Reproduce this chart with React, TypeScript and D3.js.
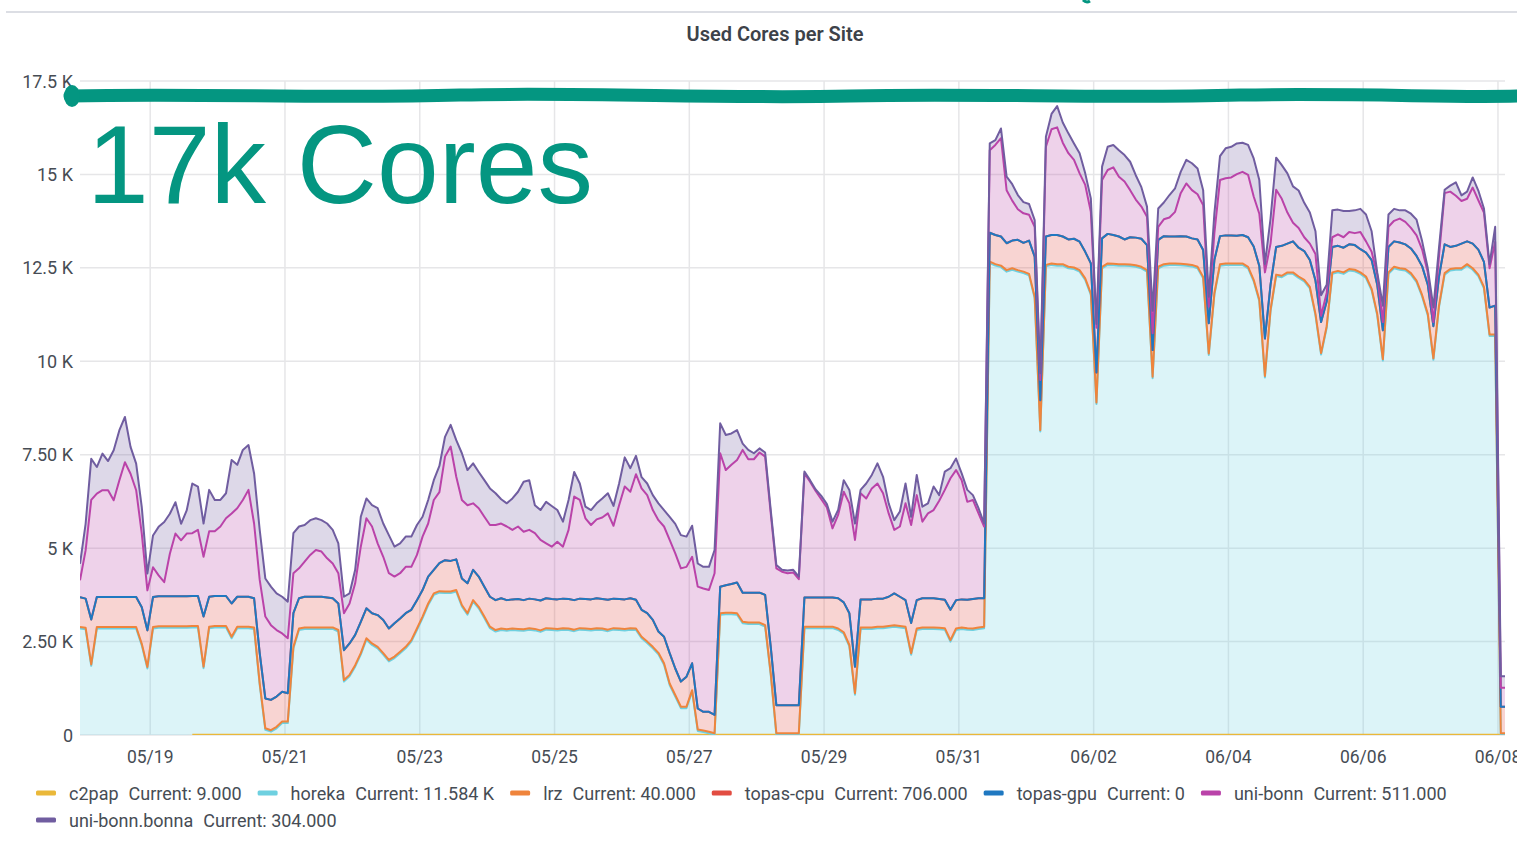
import { useMemo } from "react";
import * as d3 from "d3";

const WIDTH = 1517;
const HEIGHT = 846;
const MARGIN = { left: 80, right: 1505, top: 81, bottom: 735 };

const START_TIME = "2023-05-17T23:00:00Z";
const END_TIME = "2023-06-08T02:30:00Z";
const STEP_HOURS = 2; // one sample every 2 hours

export const seriesNames = ["c2pap", "horeka", "lrz", "topas-cpu", "topas-gpu", "uni-bonn", "uni-bonn.bonna"];
export const currentValues = ["9.000", "11.584 K", "40.000", "706.000", "0", "511.000", "304.000"];
export const colors = ["#EAB839", "#6ED0E0", "#EF843C", "#E24D42", "#1F78C1", "#BA43A9", "#705DA0"];

const yTickValues = [0, 2500, 5000, 7500, 10000, 12500, 15000, 17500];
const yTickLabels = ["0", "2.50 K", "5 K", "7.50 K", "10 K", "12.5 K", "15 K", "17.5 K"];
const xTickDates = ["2023-05-19", "2023-05-21", "2023-05-23", "2023-05-25", "2023-05-27", "2023-05-29",
  "2023-05-31", "2023-06-02", "2023-06-04", "2023-06-06", "2023-06-08"];

// cores per site, 2h samples (255 each)
const c2pap = [
  null, null, null, null, null, null, null, null, null, null,
  null, null, null, null, null, null, null, null, null, null,
  9, 9, 9, 9, 9, 9, 9, 9, 9, 9,
  9, 9, 9, 9, 9, 9, 9, 9, 9, 9,
  9, 9, 9, 9, 9, 9, 9, 9, 9, 9,
  9, 9, 9, 9, 9, 9, 9, 9, 9, 9,
  9, 9, 9, 9, 9, 9, 9, 9, 9, 9,
  9, 9, 9, 9, 9, 9, 9, 9, 9, 9,
  9, 9, 9, 9, 9, 9, 9, 9, 9, 9,
  9, 9, 9, 9, 9, 9, 9, 9, 9, 9,
  9, 9, 9, 9, 9, 9, 9, 9, 9, 9,
  9, 9, 9, 9, 9, 9, 9, 9, 9, 9,
  9, 9, 9, 9, 9, 9, 9, 9, 9, 9,
  9, 9, 9, 9, 9, 9, 9, 9, 9, 9,
  9, 9, 9, 9, 9, 9, 9, 9, 9, 9,
  9, 9, 9, 9, 9, 9, 9, 9, 9, 9,
  9, 9, 9, 9, 9, 9, 9, 9, 9, 9,
  9, 9, 9, 9, 9, 9, 9, 9, 9, 9,
  9, 9, 9, 9, 9, 9, 9, 9, 9, 9,
  9, 9, 9, 9, 9, 9, 9, 9, 9, 9,
  9, 9, 9, 9, 9, 9, 9, 9, 9, 9,
  9, 9, 9, 9, 9, 9, 9, 9, 9, 9,
  9, 9, 9, 9, 9, 9, 9, 9, 9, 9,
  9, 9, 9, 9, 9, 9, 9, 9, 9, 9,
  9, 9, 9, 9, 9, 9, 9, 9, 9, 9,
  9, 9, 9, 9, 9,
];

const horeka = [
  2850, 2830, 1850, 2850, 2850, 2850, 2850, 2850, 2850, 2850,
  2850, 2400, 1780, 2850, 2870, 2870, 2870, 2870, 2870, 2870,
  2870, 2870, 1780, 2850, 2870, 2870, 2870, 2580, 2850, 2850,
  2850, 2830, 1330, 130, 80, 170, 310, 310, 2310, 2800,
  2830, 2830, 2830, 2830, 2830, 2830, 2760, 1420, 1560, 1820,
  2140, 2540, 2400, 2310, 2140, 1960, 2050, 2180, 2310, 2490,
  2800, 3120, 3470, 3740, 3800, 3790, 3790, 3830, 3430, 3210,
  3560, 3380, 3120, 2850, 2760, 2800, 2780, 2800, 2790, 2780,
  2810, 2790, 2750, 2810, 2800, 2790, 2810, 2800, 2770, 2810,
  2800, 2790, 2810, 2800, 2770, 2810, 2800, 2790, 2810, 2800,
  2580, 2450, 2310, 2150, 1870, 1330, 1020, 710, 710, 1150,
  100, 70, 40, 0, 3210, 3220, 3220, 3210, 2980, 2960,
  2960, 2960, 2890, 1600, 0, 0, 0, 0, 0, 2850,
  2850, 2850, 2850, 2850, 2850, 2800, 2700, 2360, 1070, 2830,
  2830, 2830, 2850, 2850, 2870, 2890, 2870, 2850, 2140, 2800,
  2830, 2830, 2830, 2820, 2810, 2490, 2800, 2830, 2810, 2800,
  2830, 2850, 12620, 12550, 12510, 12390, 12440, 12390, 12350, 12290,
  11680, 8110, 12530, 12570, 12550, 12550, 12480, 12460, 12390, 12170,
  11770, 8850, 12480, 12570, 12560, 12550, 12550, 12540, 12520, 12480,
  12390, 9540, 12480, 12550, 12570, 12570, 12560, 12550, 12530, 12480,
  12210, 10160, 11770, 12550, 12570, 12570, 12570, 12570, 12480, 12130,
  11600, 9560, 11330, 12270, 12240, 12330, 12330, 12220, 12130, 11940,
  11220, 10170, 10890, 12330, 12370, 12330, 12420, 12400, 12330, 12220,
  11890, 11220, 10010, 12330, 12480, 12440, 12420, 12310, 12110, 11720,
  11220, 10030, 11440, 12310, 12420, 12440, 12440, 12550, 12440, 12270,
  11940, 10670, 10670, 0, 0,
];

const lrz = [
  40, 40, 40, 40, 40, 40, 40, 40, 40, 40, 40, 40, 40, 40, 40, 40, 40, 40, 40, 40,
  40, 40, 40, 40, 40, 40, 40, 40, 40, 40, 40, 40, 40, 40, 40, 40, 40, 40, 40, 40,
  40, 40, 40, 40, 40, 40, 40, 40, 40, 40, 40, 40, 40, 40, 40, 40, 40, 40, 40, 40,
  40, 40, 40, 40, 40, 40, 40, 40, 40, 40, 40, 40, 40, 40, 40, 40, 40, 40, 40, 40,
  40, 40, 40, 40, 40, 40, 40, 40, 40, 40, 40, 40, 40, 40, 40, 40, 40, 40, 40, 40,
  40, 40, 40, 40, 40, 40, 40, 40, 40, 40, 40, 40, 40, 40, 40, 40, 40, 40, 40, 40,
  40, 40, 40, 40, 40, 40, 40, 40, 40, 40, 40, 40, 40, 40, 40, 40, 40, 40, 40, 40,
  40, 40, 40, 40, 40, 40, 40, 40, 40, 40, 40, 40, 40, 40, 40, 40, 40, 40, 40, 40,
  40, 40, 40, 40, 40, 40, 40, 40, 40, 40, 40, 40, 40, 40, 40, 40, 40, 40, 40, 40,
  40, 40, 40, 40, 40, 40, 40, 40, 40, 40, 40, 40, 40, 40, 40, 40, 40, 40, 40, 40,
  40, 40, 40, 40, 40, 40, 40, 40, 40, 40, 40, 40, 40, 40, 40, 40, 40, 40, 40, 40,
  40, 40, 40, 40, 40, 40, 40, 40, 40, 40, 40, 40, 40, 40, 40, 40, 40, 40, 40, 40,
  40, 40, 40, 40, 40, 40, 40, 40, 40, 40, 40, 40, 40, 40, 40,
];

const topasCpu = [
  800, 780, 1200, 800, 800, 800, 800, 800, 800, 800,
  800, 980, 980, 800, 800, 800, 800, 800, 800, 800,
  800, 800, 1340, 800, 800, 800, 800, 890, 800, 800,
  800, 780, 810, 800, 810, 810, 800, 760, 900, 810,
  820, 820, 820, 820, 800, 780, 710, 800, 840, 810,
  840, 800, 810, 850, 890, 840, 890, 890, 900, 810,
  760, 710, 720, 630, 750, 840, 820, 820, 710, 800,
  810, 810, 800, 800, 800, 810, 780, 780, 800, 780,
  790, 790, 800, 800, 790, 790, 790, 790, 790, 790,
  790, 790, 800, 790, 800, 790, 790, 790, 800, 770,
  720, 760, 720, 570, 710, 810, 710, 670, 800, 720,
  560, 500, 530, 490, 710, 740, 770, 820, 780, 800,
  800, 800, 810, 710, 750, 750, 750, 750, 750, 780,
  780, 780, 780, 780, 780, 810, 800, 850, 710, 750,
  750, 750, 750, 750, 780, 850, 780, 710, 810, 760,
  780, 780, 780, 770, 760, 810, 760, 750, 760, 790,
  780, 760, 770, 780, 780, 720, 740, 810, 770, 890,
  1070, 800, 760, 760, 780, 740, 730, 770, 760, 710,
  800, 800, 760, 790, 770, 740, 660, 730, 740, 750,
  670, 710, 720, 750, 720, 720, 740, 740, 710, 730,
  720, 810, 890, 750, 750, 750, 740, 760, 790, 890,
  900, 1000, 670, 740, 800, 770, 830, 770, 770, 720,
  890, 830, 660, 680, 670, 660, 660, 660, 620, 640,
  770, 780, 770, 680, 680, 690, 660, 660, 660, 770,
  780, 860, 780, 770, 590, 600, 660, 610, 660, 670,
  670, 720, 770, 706, 706,
];

const topasGpu = [
  0, 0, 0, 0, 0, 0, 0, 0, 0, 0, 0, 0, 0, 0, 0, 0, 0, 0, 0, 0, 0, 0, 0, 0, 0, 0, 0, 0, 0, 0,
  0, 0, 0, 0, 0, 0, 0, 0, 0, 0, 0, 0, 0, 0, 0, 0, 0, 0, 0, 0, 0, 0, 0, 0, 0, 0, 0, 0, 0, 0,
  0, 0, 0, 0, 0, 0, 0, 0, 0, 0, 0, 0, 0, 0, 0, 0, 0, 0, 0, 0, 0, 0, 0, 0, 0, 0, 0, 0, 0, 0,
  0, 0, 0, 0, 0, 0, 0, 0, 0, 0, 0, 0, 0, 0, 0, 0, 0, 0, 0, 0, 0, 0, 0, 0, 0, 0, 0, 0, 0, 0,
  0, 0, 0, 0, 0, 0, 0, 0, 0, 0, 0, 0, 0, 0, 0, 0, 0, 0, 0, 0, 0, 0, 0, 0, 0, 0, 0, 0, 0, 0,
  0, 0, 0, 0, 0, 0, 0, 0, 0, 0, 0, 0, 0, 0, 0, 0, 0, 0, 0, 0, 0, 0, 0, 0, 0, 0, 0, 0, 0, 0,
  0, 0, 0, 0, 0, 0, 0, 0, 0, 0, 0, 0, 0, 0, 0, 0, 0, 0, 0, 0, 0, 0, 0, 0, 0, 0, 0, 0, 0, 0,
  0, 0, 0, 0, 0, 0, 0, 0, 0, 0, 0, 0, 0, 0, 0, 0, 0, 0, 0, 0, 0, 0, 0, 0, 0, 0, 0, 0, 0, 0,
  0, 0, 0, 0, 0, 0, 0, 0, 0, 0, 0, 0, 0, 0, 0,
];

const uniBonn = [
  450, 1290, 3200, 2770, 2860, 2860, 2590, 3120, 3610, 3300,
  2860, 1970, 1070, 800, 560, 380, 1140, 1680, 1500, 1680,
  1680, 1770, 1600, 1750, 1730, 1860, 2080, 2410, 2370, 2590,
  2860, 2000, 1960, 2190, 2000, 1780, 1560, 1470, 1070, 800,
  940, 1120, 1250, 1210, 1050, 930, 810, 990, 1070, 1380,
  2010, 2410, 2320, 1920, 1690, 1480, 1250, 1210, 1240, 1150,
  1210, 1430, 1420, 1870, 1900, 2770, 3060, 2210, 2100, 2090,
  1780, 1830, 1870, 1920, 2010, 2000, 1970, 1860, 1940, 1830,
  1840, 1770, 1620, 1470, 1400, 1540, 1390, 1850, 2770, 2640,
  2160, 1990, 2110, 2180, 2310, 1950, 2510, 3020, 2850, 3360,
  3250, 3160, 2940, 2980, 2950, 3030, 3080, 3030, 2940, 2850,
  3260, 3300, 3260, 3790, 3570, 3080, 3190, 3280, 3820, 3570,
  3570, 3750, 3700, 3570, 3660, 3570, 3530, 3550, 3370, 3320,
  3100, 2850, 2630, 2410, 1850, 2230, 2960, 2940, 3390, 2840,
  2700, 2970, 3080, 2820, 2230, 1700, 1880, 2590, 2620, 2810,
  2050, 2270, 2360, 2630, 2940, 3520, 3480, 3190, 2620, 2650,
  2270, 1920, 2210, 2410, 2630, 1420, 1070, 820, 790, 690,
  800, 540, 2400, 2830, 2880, 2510, 2310, 2110, 1830, 1790,
  1380, 1200, 1560, 1710, 1810, 1600, 1550, 1260, 1020, 860,
  760, 450, 350, 450, 510, 660, 1150, 1420, 1290, 1210,
  1200, 440, 720, 1500, 1530, 1550, 1650, 1690, 1670, 1340,
  1400, 1770, 1100, 1530, 1260, 830, 500, 530, 370, 440,
  710, 170, 230, 260, 310, 280, 330, 320, 460, 300,
  220, 270, 220, 540, 550, 640, 600, 550, 550, 450,
  330, 110, 550, 1370, 1480, 1340, 1140, 1140, 1500, 1320,
  1320, 1050, 1710, 511, 511,
];

const bonna = [
  440, 710, 1100, 710, 980, 780, 1340, 1340, 1210, 720,
  710, 710, 450, 850, 1300, 1610, 1070, 840, 440, 620,
  1330, 1160, 890, 1110, 840, 710, 670, 1430, 1160, 1340,
  1200, 1340, 1340, 1020, 1030, 980, 980, 980, 1070, 1120,
  980, 930, 850, 840, 930, 900, 800, 440, 270, 360,
  800, 530, 570, 940, 890, 1020, 800, 800, 810, 810,
  800, 530, 630, 530, 700, 530, 580, 980, 1250, 940,
  1070, 970, 980, 980, 850, 650, 620, 840, 930, 1340,
  1330, 750, 800, 1110, 1090, 850, 670, 800, 660, 440,
  310, 400, 430, 510, 540, 530, 580, 780, 630, 490,
  300, 310, 400, 450, 440, 620, 790, 890, 810, 830,
  620, 580, 620, 620, 800, 940, 840, 800, 170, 250,
  160, 110, 110, 90, 90, 50, 70, 70, 70, 50,
  40, 40, 90, 90, 180, 130, 310, 360, 440, 90,
  400, 360, 540, 440, 270, 260, 400, 530, 220, 540,
  400, 270, 630, 150, 490, 270, 310, 180, 320, 130,
  140, 80, 180, 130, 260, 360, 440, 380, 300, 290,
  180, 180, 270, 410, 570, 540, 530, 440, 540, 310,
  360, 100, 360, 620, 600, 710, 710, 760, 650, 520,
  270, 600, 490, 450, 600, 630, 570, 630, 720, 690,
  400, 270, 530, 640, 800, 820, 820, 780, 800, 1020,
  900, 220, 670, 860, 900, 1050, 970, 1000, 920, 830,
  610, 550, 220, 720, 660, 700, 560, 610, 620, 720,
  550, 60, 440, 330, 320, 220, 310, 380, 420, 220,
  110, 390, 220, 90, 160, 360, 150, 190, 270, 260,
  110, 110, 400, 304, 304,
];

const seriesValues = [c2pap, horeka, lrz, topasCpu, topasGpu, uniBonn, bonna];

const FONT = "Roboto, 'Noto Sans', sans-serif";
const TEXT_COLOR = "#464c54";
const GRID_COLOR = "#e6e6e8";
const FILL_OPACITY = 0.24;

const measureCtx = typeof document !== "undefined" ? document.createElement("canvas").getContext("2d") : null;
const textWidth = (text: string, size: number) => {
  if (!measureCtx) return text.length * size * 0.55;
  measureCtx.font = `${size}px Roboto`;
  return measureCtx.measureText(text).width;
};

const Chart = () => {
  const start = new Date(START_TIME).getTime();

  const table = useMemo(
    () =>
      horeka.map((_, i) => {
        const row: any = { time: new Date(start + i * STEP_HOURS * 3600 * 1000) };
        seriesNames.forEach((name, k) => (row[name] = seriesValues[k][i]));
        return row;
      }),
    [start]
  );

  const xScale = d3.scaleUtc().domain([new Date(START_TIME), new Date(END_TIME)]).range([MARGIN.left, MARGIN.right]);
  const yScale = d3.scaleLinear().domain([0, 17500]).range([MARGIN.bottom, MARGIN.top]);

  const stacked = useMemo(
    () =>
      d3
        .stack<any, string>()
        .keys(seriesNames)
        .value((d, key) => (d[key] == null ? 0 : d[key]))(table),
    [table]
  );

  const areaGen = d3
    .area<any>()
    .x((d) => xScale(d.data.time))
    .y0((d) => yScale(d[0]))
    .y1((d) => yScale(d[1]));

  const lineGen = d3
    .line<any>()
    .x((d) => xScale(d.data.time))
    .y((d) => yScale(d[1]));

  // legend layout, wraps like grafana's
  const legendItems: { name: string; value: string; color: string; x: number; row: number }[] = [];
  let lx = 36;
  let row = 0;
  seriesNames.forEach((name, i) => {
    const value = `Current: ${currentValues[i]}`;
    const w = 20 + 13 + textWidth(name, 18) + 10 + textWidth(value, 18);
    if (lx + w > 1500) {
      lx = 36;
      row += 1;
    }
    legendItems.push({ name, value, color: colors[i], x: lx, row });
    lx += w + 16;
  });

  return (
    <svg width={WIDTH} height={HEIGHT} style={{ position: "absolute", left: 0, top: 0, background: "#fff" }}>
      <defs>
        <clipPath id="plot-clip">
          <rect x={MARGIN.left} y={MARGIN.top - 2} width={MARGIN.right - MARGIN.left} height={MARGIN.bottom - MARGIN.top + 2} />
        </clipPath>
      </defs>

      {/* panel header border */}
      <line x1={6} x2={WIDTH} y1={12} y2={12} stroke="#dcdee4" strokeWidth={2} />
      <path d="M1083,0 C1085,2 1087,3 1090,1" stroke="#049681" strokeWidth={3} fill="none" />

      <text x={775} y={41} textAnchor="middle" fontFamily={FONT} fontWeight={600} fontSize={20} fill="#3d4249">
        Used Cores per Site
      </text>

      {/* grid */}
      <g>
        {yTickValues.map((v) => (
          <line key={v} x1={MARGIN.left} x2={MARGIN.right} y1={yScale(v)} y2={yScale(v)} stroke={GRID_COLOR} strokeWidth={1.5} />
        ))}
        {xTickDates.map((d) => {
          const x = xScale(new Date(d + "T00:00:00Z"));
          return <line key={d} x1={x} x2={x} y1={MARGIN.top} y2={MARGIN.bottom} stroke={GRID_COLOR} strokeWidth={1.5} />;
        })}
      </g>

      {/* stacked areas, then lines on top */}
      <g clipPath="url(#plot-clip)">
        {stacked.map((s, i) => (
          <path key={s.key} d={areaGen(s) ?? ""} fill={colors[i]} fillOpacity={FILL_OPACITY} />
        ))}
        {stacked.map((s, i) => {
          const gen = lineGen.defined((d: any) => d.data[s.key] != null);
          return (
            <path key={s.key} d={gen(s) ?? ""} fill="none" stroke={colors[i]} strokeWidth={2} strokeLinejoin="round" />
          );
        })}
      </g>

      {/* y axis */}
      <g fontFamily={FONT} fontSize={18} fill={TEXT_COLOR}>
        {yTickValues.map((v, i) => (
          <text key={v} x={73} y={yScale(v)} textAnchor="end" dominantBaseline="central">
            {yTickLabels[i]}
          </text>
        ))}
      </g>

      {/* x axis */}
      <g fontFamily={FONT} fontSize={17.5} fill={TEXT_COLOR}>
        {xTickDates.map((d) => (
          <text key={d} x={xScale(new Date(d + "T00:00:00Z"))} y={763} textAnchor="middle">
            {d3.utcFormat("%m/%d")(new Date(d + "T00:00:00Z"))}
          </text>
        ))}
      </g>

      {/* legend */}
      <g fontFamily={FONT} fontSize={18} fill={TEXT_COLOR}>
        {legendItems.map((it) => {
          const cy = 793 + it.row * 27;
          return (
            <g key={it.name}>
              <rect x={it.x} y={cy - 2.5} width={20} height={5} rx={1.5} fill={it.color} />
              <text x={it.x + 33} y={cy} dominantBaseline="central">
                {it.name}
                <tspan dx={10}>{it.value}</tspan>
              </text>
            </g>
          );
        })}
      </g>

      {/* hand-drawn annotation */}
      <path
        d="M70,96 C200,93 330,99 460,95 C590,92 720,99 850,96 C980,93 1110,99 1240,95 C1370,93 1450,98 1517,96"
        stroke="#049681"
        strokeWidth={13}
        fill="none"
        strokeLinecap="round"
      />
      <ellipse cx={72} cy={96} rx={8} ry={11} fill="#049681" />
      <text x={87} y={203} fontFamily="'Liberation Sans', Arial, sans-serif" fontSize={111} fill="#049681">
        17k Cores
      </text>
    </svg>
  );
};

export default function App() {
  return <Chart />;
}
